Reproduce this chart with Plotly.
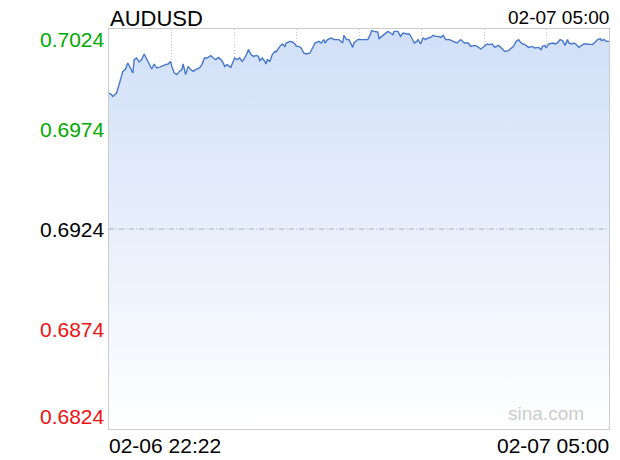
import plotly.graph_objects as go

# AUDUSD intraday, minutes after 02-06 22:22
minutes = [0, 2, 3, 6, 8, 11, 13, 15, 17, 19, 20, 22, 24, 26, 28, 30, 32, 34, 36, 38,
           40, 43, 45, 47, 49, 50, 52, 54, 56, 58, 59, 61, 63, 65, 67, 69, 72, 74, 76, 78,
           81, 83, 85, 87, 89, 91, 92, 94, 97, 98, 100, 102, 104, 106, 108, 110, 111, 113, 115, 117,
           119, 120, 122, 124, 125, 126, 128, 130, 132, 133, 136, 138, 140, 141, 144, 146, 148, 149, 151, 153,
           155, 157, 160, 162, 164, 167, 169, 171, 172, 174, 177, 179, 183, 186, 187, 189, 191, 194, 195, 198,
           201, 203, 206, 208, 209, 211, 214, 215, 217, 219, 222, 224, 226, 227, 230, 232, 234, 237, 239, 241,
           243, 245, 246, 248, 250, 252, 254, 256, 258, 260, 262, 264, 266, 268, 271, 274, 277, 280, 283, 286,
           288, 291, 293, 296, 299, 301, 303, 305, 307, 310, 312, 315, 318, 320, 322, 324, 326, 328, 330, 332,
           334, 337, 339, 342, 344, 345, 347, 348, 350, 353, 355, 357, 359, 361, 363, 365, 366, 368, 370, 372,
           374, 376, 378, 380, 383, 385, 387, 389, 391, 392, 394, 396, 398]
prices = [0.69920, 0.69912, 0.69903, 0.69920, 0.69962, 0.70028, 0.70037, 0.70070, 0.70045, 0.70020,
          0.70087, 0.70095, 0.70075, 0.70087, 0.70115, 0.70087, 0.70062, 0.70040, 0.70065, 0.70045,
          0.70048, 0.70058, 0.70062, 0.70065, 0.70078, 0.70053, 0.70020, 0.70012, 0.70028, 0.70037,
          0.70065, 0.70012, 0.70053, 0.70037, 0.70028, 0.70037, 0.70045, 0.70062, 0.70095, 0.70095,
          0.70107, 0.70095, 0.70087, 0.70098, 0.70087, 0.70070, 0.70053, 0.70062, 0.70048, 0.70065,
          0.70095, 0.70087, 0.70095, 0.70078, 0.70095, 0.70120, 0.70137, 0.70112, 0.70103, 0.70108,
          0.70103, 0.70082, 0.70095, 0.70078, 0.70065, 0.70087, 0.70078, 0.70112, 0.70128, 0.70125,
          0.70153, 0.70165, 0.70153, 0.70170, 0.70178, 0.70175, 0.70165, 0.70153, 0.70153, 0.70145,
          0.70120, 0.70115, 0.70120, 0.70145, 0.70170, 0.70178, 0.70170, 0.70187, 0.70170, 0.70187,
          0.70195, 0.70187, 0.70187, 0.70170, 0.70208, 0.70187, 0.70187, 0.70148, 0.70170, 0.70187,
          0.70187, 0.70190, 0.70187, 0.70212, 0.70232, 0.70228, 0.70225, 0.70192, 0.70203, 0.70212,
          0.70228, 0.70220, 0.70212, 0.70228, 0.70228, 0.70203, 0.70220, 0.70215, 0.70215, 0.70195,
          0.70170, 0.70178, 0.70187, 0.70165, 0.70195, 0.70187, 0.70195, 0.70198, 0.70208, 0.70203,
          0.70203, 0.70198, 0.70208, 0.70187, 0.70187, 0.70178, 0.70170, 0.70187, 0.70170, 0.70170,
          0.70153, 0.70158, 0.70153, 0.70140, 0.70158, 0.70165, 0.70162, 0.70165, 0.70148, 0.70158,
          0.70148, 0.70128, 0.70132, 0.70142, 0.70153, 0.70178, 0.70187, 0.70170, 0.70165, 0.70158,
          0.70148, 0.70153, 0.70145, 0.70148, 0.70137, 0.70153, 0.70158, 0.70145, 0.70165, 0.70170,
          0.70165, 0.70170, 0.70187, 0.70182, 0.70158, 0.70187, 0.70170, 0.70165, 0.70170, 0.70162,
          0.70148, 0.70158, 0.70165, 0.70165, 0.70165, 0.70162, 0.70175, 0.70187, 0.70192, 0.70182,
          0.70187, 0.70178, 0.70178]

y_ticks = [0.7024, 0.6974, 0.6924, 0.6874, 0.6824]
prev_close = 0.6924
symbol = "AUDUSD"
start_label = "02-06 22:22"
end_label = "02-07 05:00"
total_minutes = 398

font = "Liberation Sans, Arial, sans-serif"
y_lo, y_hi = min(y_ticks), max(y_ticks)

fig = go.Figure()
# baseline so the fill stops at the bottom of the plot
fig.add_trace(go.Scatter(x=minutes, y=[y_lo] * len(minutes), mode="lines",
                         line=dict(width=0), hoverinfo="skip", showlegend=False))
fig.add_trace(go.Scatter(
    x=minutes, y=prices, mode="lines", fill="tonexty",
    line=dict(color="#4677cf", width=1.4),
    fillgradient=dict(type="vertical", start=y_lo, stop=y_hi,
                      colorscale=[[0, "#ffffff"], [1, "#d0dff8"]]),
    showlegend=False,
))

fig.add_shape(type="line", xref="paper", x0=0, x1=1, y0=prev_close, y1=prev_close,
              line=dict(color="#a8aec0", width=1, dash="5px,2px,1px,2px"), layer="above")

for v in y_ticks:
    if v > prev_close:
        c = "#00a800"
    elif v < prev_close:
        c = "#ee1111"
    else:
        c = "#000000"
    shift = 0
    if v == y_hi:
        shift = -10
    elif v == y_lo:
        shift = 13
    fig.add_annotation(x=0, xref="paper", y=v, yref="y", text=f"{v:.4f}",
                       xanchor="right", yanchor="middle", xshift=-2, yshift=shift,
                       showarrow=False, font=dict(size=21, color=c, family=font))

fig.add_annotation(x=0, xref="paper", y=1, yref="paper", text=symbol, xanchor="left",
                   yanchor="bottom", xshift=-1, yshift=-4, showarrow=False,
                   font=dict(size=22, color="#000000", family=font))
fig.add_annotation(x=1, xref="paper", y=1, yref="paper", text=end_label, xanchor="right",
                   yanchor="bottom", xshift=2, yshift=-1, showarrow=False,
                   font=dict(size=19, color="#000000", family=font))
fig.add_annotation(x=0, xref="paper", y=0, yref="paper", text=start_label, xanchor="left",
                   yanchor="top", xshift=-2, yshift=-3, showarrow=False,
                   font=dict(size=21, color="#000000", family=font))
fig.add_annotation(x=1, xref="paper", y=0, yref="paper", text=end_label, xanchor="right",
                   yanchor="top", xshift=2, yshift=-3, showarrow=False,
                   font=dict(size=21, color="#000000", family=font))
fig.add_annotation(x=0.873, xref="paper", y=0.04, yref="paper", text="sina.com",
                   xanchor="center", yanchor="middle", showarrow=False,
                   font=dict(size=19, color="#cccccc", family=font))

fig.update_xaxes(range=[0, total_minutes], tickvals=[total_minutes * k / 8 for k in range(1, 8)],
                 showticklabels=False, ticks="", showgrid=True, gridcolor="#c8c8d0",
                 griddash="1px,2px", gridwidth=1, zeroline=False,
                 showline=True, linecolor="#cccccc", linewidth=1, mirror=True)
fig.update_yaxes(range=[y_lo, y_hi], tickvals=[0.6874, 0.6974], showticklabels=False,
                 ticks="", showgrid=True, gridcolor="#c8c8d0", griddash="1px,2px",
                 gridwidth=1, zeroline=False,
                 showline=True, linecolor="#cccccc", linewidth=1, mirror=True)

# page body has an 8px margin, so the figure is 8px smaller to keep the plot in place
fig.update_layout(width=612, height=452, margin=dict(l=101, r=11, t=21, b=31),
                  plot_bgcolor="#ffffff", paper_bgcolor="#ffffff",
                  font=dict(family=font), showlegend=False, hovermode=False)

fig.write_html("out.html")
